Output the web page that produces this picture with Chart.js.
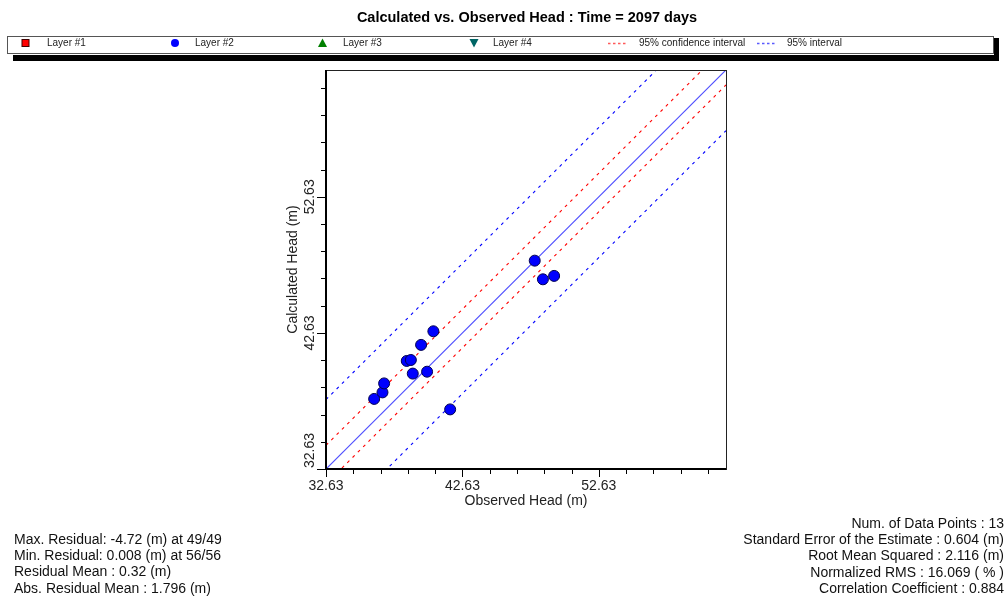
<!DOCTYPE html>
<html lang="en">

<head>
    <meta charset="UTF-8">
    <script src="https://cdn.jsdelivr.net/npm/chart.js"></script>
    <title>Calculated vs. Observed Head</title>
    <style>
        body { margin: 0; overflow: hidden; background: #fff; font-family: Arial, "Liberation Sans", sans-serif; }
        #wrap { position: relative; width: 1008px; height: 599px; }
        #chart { position: absolute; left: 0; top: 0; }
        .title { position: absolute; left: 527px; top: 9px; transform: translateX(-50%); white-space: nowrap;
                 font-weight: bold; font-size: 14.5px; line-height: 17px; color: #000; }
        .stats { position: absolute; font-size: 14px; line-height: 16.2px; color: #111; white-space: nowrap; }
        #statsLeft { left: 14px; top: 531px; }
        #statsRight { right: 4px; top: 515px; text-align: right; }
    </style>
</head>

<body>
    <div id="wrap">
        <canvas id="chart" width="1008" height="599"></canvas>
        <div class="title">Calculated vs. Observed Head : Time = 2097 days</div>
        <div class="stats" id="statsLeft"></div>
        <div class="stats" id="statsRight"></div>
    </div>

    <script>
        // observation wells, Layer #2
        const observedHead = [36.16, 36.77, 36.89, 38.55, 38.85, 38.99, 39.60, 40.04, 40.50, 41.73, 47.93, 48.53, 49.35];
        const calculatedHead = [37.78, 38.26, 38.92, 40.57, 40.64, 39.64, 41.75, 39.78, 42.75, 37.01, 47.94, 46.57, 46.82];

        // interval bands around the 1:1 line
        const residualMean = 0.32;
        const confHalfWidth = 1.42;
        const predHalfWidth = 4.78;

        const axisMin = 32.63;
        const axisMax = 61.95;
        const tickValues = [32.63, 34.63, 36.63, 38.63, 40.63, 42.63, 44.63, 46.63, 48.63, 50.63, 52.63, 54.63, 56.63, 58.63, 60.63];
        const majorTicks = [32.63, 42.63, 52.63];

        const legendLabels = ['Layer #1', 'Layer #2', 'Layer #3', 'Layer #4', '95% confidence interval', '95% interval'];

        const statsLeft = [
            'Max. Residual: -4.72 (m) at 49/49',
            'Min. Residual: 0.008 (m) at 56/56',
            'Residual Mean : 0.32 (m)',
            'Abs. Residual Mean : 1.796 (m)'
        ];
        const statsRight = [
            'Num. of Data Points : 13',
            'Standard Error of the Estimate : 0.604 (m)',
            'Root Mean Squared : 2.116 (m)',
            'Normalized RMS : 16.069 ( % )',
            'Correlation Coefficient : 0.884'
        ];

        document.getElementById('statsLeft').innerHTML = statsLeft.join('<br>');
        document.getElementById('statsRight').innerHTML = statsRight.join('<br>');

        const RED = 'rgb(255, 0, 0)';
        const BLUE = 'rgb(0, 0, 255)';

        const isMajor = v => majorTicks.some(m => Math.abs(m - v) < 1e-6);
        const offsetLine = off => [{ x: axisMin, y: axisMin + off }, { x: axisMax, y: axisMax + off }];

        function lineSet(off, color, dash, width) {
            return {
                type: 'line',
                data: offsetLine(off),
                borderColor: color,
                borderWidth: width,
                borderDash: dash,
                pointRadius: 0,
                fill: false
            };
        }

        // frame, tick marks and rotated y labels
        const axesPlugin = {
            id: 'axesDeco',
            afterDraw(chart) {
                const { ctx, chartArea: a } = chart;
                const xs = chart.scales.x, ys = chart.scales.y;
                ctx.save();
                ctx.strokeStyle = '#222';
                ctx.lineWidth = 1;
                ctx.strokeRect(a.left + 0.5, a.top + 0.5, a.right - a.left, a.bottom - a.top);
                ctx.strokeStyle = '#000';
                ctx.lineWidth = 2;
                ctx.beginPath();
                ctx.moveTo(a.left, a.top);
                ctx.lineTo(a.left, a.bottom);
                ctx.lineTo(a.right, a.bottom);
                ctx.stroke();

                ctx.lineWidth = 1;
                xs.ticks.forEach(t => {
                    const px = Math.round(xs.getPixelForValue(t.value)) + 0.5;
                    ctx.beginPath();
                    ctx.moveTo(px, a.bottom);
                    ctx.lineTo(px, a.bottom + (isMajor(t.value) ? 8 : 5));
                    ctx.stroke();
                });
                ys.ticks.forEach(t => {
                    const py = Math.round(ys.getPixelForValue(t.value)) + 0.5;
                    ctx.beginPath();
                    ctx.moveTo(a.left, py);
                    ctx.lineTo(a.left - (isMajor(t.value) ? 9 : 5), py);
                    ctx.stroke();
                });

                ctx.fillStyle = '#222';
                ctx.font = '14px Arial, "Liberation Sans", sans-serif';
                ctx.textAlign = 'center';
                ctx.textBaseline = 'middle';
                ys.ticks.filter(t => isMajor(t.value)).forEach(t => {
                    const label = t.value.toFixed(2);
                    const half = ctx.measureText(label).width / 2;
                    let py = ys.getPixelForValue(t.value);
                    py = Math.min(py, a.bottom - half - 1);
                    ctx.save();
                    ctx.translate(a.left - 16, py);
                    ctx.rotate(-Math.PI / 2);
                    ctx.fillText(label, 0, 0);
                    ctx.restore();
                });
                ctx.restore();
            }
        };

        // legend strip with drop shadow
        const legendPlugin = {
            id: 'legendStrip',
            afterDraw(chart) {
                const ctx = chart.ctx;
                ctx.save();
                ctx.fillStyle = '#000';
                ctx.fillRect(13, 55, 986, 6);
                ctx.fillRect(994, 38, 5, 23);
                ctx.fillStyle = '#fff';
                ctx.fillRect(7, 36, 987, 17);
                ctx.strokeStyle = '#555';
                ctx.lineWidth = 1;
                ctx.strokeRect(7.5, 36.5, 986, 17);

                const cy = 43;
                // Layer #1 square
                ctx.fillStyle = '#ff0000';
                ctx.fillRect(22, 39.5, 7, 7);
                ctx.strokeStyle = '#400000';
                ctx.strokeRect(22, 39.5, 7, 7);
                // Layer #2 circle
                ctx.fillStyle = '#0000ff';
                ctx.beginPath();
                ctx.arc(175, cy, 4, 0, Math.PI * 2);
                ctx.fill();
                // Layer #3 triangle
                ctx.fillStyle = '#008000';
                ctx.beginPath();
                ctx.moveTo(322.5, 38.5);
                ctx.lineTo(327, 47);
                ctx.lineTo(318, 47);
                ctx.closePath();
                ctx.fill();
                // Layer #4 inverted triangle
                ctx.fillStyle = '#006666';
                ctx.beginPath();
                ctx.moveTo(469.5, 39);
                ctx.lineTo(478.5, 39);
                ctx.lineTo(474, 47.5);
                ctx.closePath();
                ctx.fill();
                // dashed samples
                ctx.lineWidth = 1.5;
                ctx.setLineDash([2.5, 2.5]);
                ctx.strokeStyle = 'rgb(255, 90, 90)';
                ctx.beginPath();
                ctx.moveTo(608, cy + 0.5);
                ctx.lineTo(628, cy + 0.5);
                ctx.stroke();
                ctx.strokeStyle = 'rgb(90, 90, 255)';
                ctx.beginPath();
                ctx.moveTo(757, cy + 0.5);
                ctx.lineTo(777, cy + 0.5);
                ctx.stroke();
                ctx.setLineDash([]);

                ctx.fillStyle = '#222';
                ctx.font = '10px Arial, "Liberation Sans", sans-serif';
                ctx.textAlign = 'left';
                ctx.textBaseline = 'middle';
                const textX = [47, 195, 343, 493, 639, 787];
                legendLabels.forEach((t, i) => ctx.fillText(t, textX[i], cy));
                ctx.restore();
            }
        };

        const ctx = document.getElementById('chart').getContext('2d');
        new Chart(ctx, {
            type: 'scatter',
            data: {
                datasets: [
                    {
                        label: 'Layer #2',
                        data: observedHead.map((x, i) => ({ x: x, y: calculatedHead[i] })),
                        backgroundColor: '#0000ff',
                        borderColor: '#000050',
                        borderWidth: 1,
                        pointRadius: 5.5
                    },
                    lineSet(0, 'rgb(80, 80, 255)', [], 1.2),
                    lineSet(residualMean + confHalfWidth, RED, [3, 4.5], 1.1),
                    lineSet(residualMean - confHalfWidth, RED, [3, 4.5], 1.1),
                    lineSet(residualMean + predHalfWidth, BLUE, [3, 4.5], 1.1),
                    lineSet(residualMean - predHalfWidth, BLUE, [3, 4.5], 1.1)
                ]
            },
            options: {
                responsive: false,
                animation: false,
                layout: { padding: { left: 281, top: 70, right: 282, bottom: 85 } },
                plugins: {
                    legend: { display: false },
                    title: { display: false },
                    tooltip: { enabled: false }
                },
                scales: {
                    x: {
                        type: 'linear',
                        min: axisMin,
                        max: axisMax,
                        afterBuildTicks: s => { s.ticks = tickValues.map(v => ({ value: v })); },
                        afterFit: s => { s.height = 45; },
                        grid: { display: false, drawTicks: true, tickLength: 8 },
                        border: { display: false },
                        ticks: {
                            autoSkip: false,
                            maxRotation: 0,
                            padding: 1,
                            color: '#222',
                            font: { family: 'Arial, "Liberation Sans", sans-serif', size: 14 },
                            callback: v => isMajor(v) ? v.toFixed(2) : ''
                        },
                        title: {
                            display: true,
                            text: 'Observed Head (m)',
                            color: '#222',
                            padding: { top: 0, bottom: 4 },
                            font: { family: 'Arial, "Liberation Sans", sans-serif', size: 14 }
                        }
                    },
                    y: {
                        type: 'linear',
                        min: axisMin,
                        max: axisMax,
                        afterBuildTicks: s => { s.ticks = tickValues.map(v => ({ value: v })); },
                        afterFit: s => { s.width = 45; },
                        grid: { display: false },
                        border: { display: false },
                        ticks: { display: false },
                        title: {
                            display: true,
                            text: 'Calculated Head (m)',
                            color: '#222',
                            padding: { top: 4, bottom: 0 },
                            font: { family: 'Arial, "Liberation Sans", sans-serif', size: 14 }
                        }
                    }
                }
            },
            plugins: [axesPlugin, legendPlugin]
        });
    </script>
</body>

</html>
